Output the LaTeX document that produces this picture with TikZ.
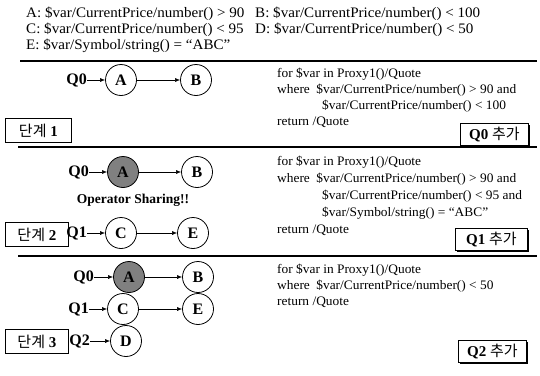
\documentclass[tikz,border=0pt]{standalone}
\usepackage{fontspec}
\setmainfont{Liberation Serif}
\newfontfamily\widefont[FakeStretch=1.04]{Liberation Serif}
\newfontfamily\qryfont[FakeStretch=1.03]{Liberation Serif}
\newfontfamily\krfont{Noto Sans CJK KR}
\usetikzlibrary{arrows.meta,shadows}
\begin{document}
\begin{tikzpicture}[x=1pt,y=-1pt,
  op/.style={circle,draw,line width=0.8pt,minimum size=31pt,inner sep=0pt,font=\fontsize{16}{16}\selectfont\bfseries},
  shared/.style={op,fill=black!50},
  qlabel/.style={inner sep=0pt,font=\fontsize{16}{16}\selectfont\bfseries},
  flow/.style={-{Latex[length=5pt,width=4pt]},line width=0.6pt},
  rule/.style={line width=1.1pt},
  stage/.style={draw,line width=0.8pt,minimum width=66pt,minimum height=24pt,inner sep=0pt,anchor=north west,font=\fontsize{15}{15}\selectfont},
  added/.style={draw,fill=white,line width=0.8pt,minimum width=68pt,minimum height=22pt,inner sep=0pt,anchor=north west,font=\fontsize{15}{15}\selectfont,
    drop shadow={shadow xshift=1.2pt,shadow yshift=-1.2pt,fill=black,opacity=1}},
  pred/.style={anchor=base west,inner sep=0pt,font=\widefont\fontsize{14.5}{14.5}\selectfont},
  query/.style={anchor=base west,inner sep=0pt,font=\qryfont\fontsize{13}{13}\selectfont}]
\useasboundingbox (0,0) rectangle (540,375);
\fill[white] (0,0) rectangle (540,375);

% predicate legend
\node[pred] (pa) at (26,17) {A: \$var/CurrentPrice/number() > 90};
\node[pred] (pb) at (255,17) {B: \$var/CurrentPrice/number() < 100};
\node[pred] (pc) at (26,33) {C: \$var/CurrentPrice/number() < 95};
\node[pred] (pd) at (255,33) {D: \$var/CurrentPrice/number() < 50};
\node[pred] (pe) at (26,49) {E: \$var/Symbol/string() = “ABC”};

% separators
\coordinate (r1a) at (20,61);  \coordinate (r1b) at (537,61);
\coordinate (r2a) at (18,147); \coordinate (r2b) at (537,147);
\coordinate (r3a) at (18,256); \coordinate (r3b) at (537,256);
\draw[rule] (r1a) -- (r1b);
\draw[rule] (r2a) -- (r2b);
\draw[rule] (r3a) -- (r3b);

% ---- step 1
\node[op] (a1) at (121,80) {A};
\node[op] (b1) at (196,80) {B};
\node[qlabel,anchor=east] (q01) at (87,80) {Q0};
\draw[flow] (q01) -- (a1);
\draw[flow] (a1) -- (b1);
\node[stage] (s1) at (5,118) {{\krfont 단계} \textbf{1}};
\node[query] (t11) at (277,77) {for \$var in Proxy1()/Quote};
\node[query] (t12) at (277,93) {where\enspace \$var/CurrentPrice/number() > 90 and};
\node[query] (t13) at (322,109) {\$var/CurrentPrice/number() < 100};
\node[query] (t14) at (277,125) {return /Quote};
\node[added] (k1) at (460,123) {\textbf{Q0} {\krfont 추가}};

% ---- step 2
\node[shared] (a2) at (123,172) {A};
\node[op] (b2) at (197,172) {B};
\node[qlabel,anchor=east] (q02) at (89,172) {Q0};
\draw[flow] (q02) -- (a2);
\draw[flow] (a2) -- (b2);
\node[inner sep=0pt,font=\fontsize{13.5}{13.5}\selectfont\bfseries] (share) at (133,200) {Operator Sharing!!};
\node[op] (c2) at (121,233) {C};
\node[op] (e2) at (193,233) {E};
\node[qlabel,anchor=east] (q12) at (87,233) {Q1};
\draw[flow] (q12) -- (c2);
\draw[flow] (c2) -- (e2);
\node[stage,minimum width=63pt] (s2) at (5,222) {{\krfont 단계} \textbf{2}};
\node[query] (t21) at (277,165) {for \$var in Proxy1()/Quote};
\node[query] (t22) at (277,182) {where\enspace \$var/CurrentPrice/number() > 90 and};
\node[query] (t23) at (322,199) {\$var/CurrentPrice/number() < 95 and};
\node[query] (t24) at (322,216) {\$var/Symbol/string() = “ABC”};
\node[query] (t25) at (277,233) {return /Quote};
\node[added,minimum width=72pt] (k2) at (455,228) {\textbf{Q1} {\krfont 추가}};

% ---- step 3
\node[shared] (a3) at (129,277) {A};
\node[op] (b3) at (198,277) {B};
\node[qlabel,anchor=east] (q03) at (94,277) {Q0};
\draw[flow] (q03) -- (a3);
\draw[flow] (a3) -- (b3);
\node[op] (c3) at (123,309) {C};
\node[op] (e3) at (198,309) {E};
\node[qlabel,anchor=east] (q13) at (89,309) {Q1};
\draw[flow] (q13) -- (c3);
\draw[flow] (c3) -- (e3);
\node[op] (d3) at (126,341) {D};
\node[qlabel,anchor=east] (q23) at (90,341) {Q2};
\draw[flow] (q23) -- (d3);
\node[stage,minimum width=63pt] (s3) at (5,329) {{\krfont 단계} \textbf{3}};
\node[query] (t31) at (277,273) {for \$var in Proxy1()/Quote};
\node[query] (t32) at (277,289) {where\enspace \$var/CurrentPrice/number() < 50};
\node[query] (t33) at (277,305) {return /Quote};
\node[added] (k3) at (458,340) {\textbf{Q2} {\krfont 추가}};
\end{tikzpicture}
\end{document}
